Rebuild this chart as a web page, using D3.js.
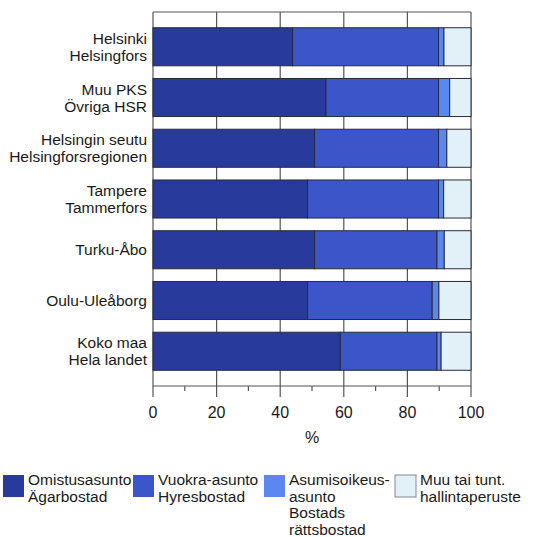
<html>
<head>
  <script src="https://d3js.org/d3.v7.min.js"></script>
  <style>
    body { margin: 0; background: #fff; }
    text { font-family: "Liberation Sans", Arial, sans-serif; font-size: 15.5px; fill: #1a1a1a; }
    .tick-lab { font-size: 16px; }
  </style>
</head>
<body>
  <script>
    var width = 540,
    height = 537;

    // regions, each one or two lines of label
    var regions = [
      ["Helsinki", "Helsingfors"],
      ["Muu PKS", "Övriga HSR"],
      ["Helsingin seutu", "Helsingforsregionen"],
      ["Tampere", "Tammerfors"],
      ["Turku-Åbo"],
      ["Oulu-Uleåborg"],
      ["Koko maa", "Hela landet"]
    ];

    // shares in percent
    var owned  = [43.9, 54.4, 50.8, 48.6, 50.8, 48.6, 58.9];
    var rented = [45.9, 35.4, 39.0, 41.2, 38.5, 39.2, 30.4];
    var rightOfOccupancy = [1.7, 3.5, 2.6, 1.6, 2.3, 2.1, 1.3];
    var other  = [8.5, 6.7, 7.6, 8.6, 8.4, 10.1, 9.4];

    var seriesNames = [
      ["Omistusasunto", "Ägarbostad"],
      ["Vuokra-asunto", "Hyresbostad"],
      ["Asumisoikeus-", "asunto", "Bostads", "rättsbostad"],
      ["Muu tai tunt.", "hallintaperuste"]
    ];
    var colors = ["#283a9c", "#3b56c8", "#5b87f0", "#e2f1f7"];
    var xTicks = [0, 20, 40, 60, 80, 100];

    var rows = regions.map(function(r, i){
      return { i: i, vals: [owned[i], rented[i], rightOfOccupancy[i], other[i]] };
    });

    var svg = d3.select( "body" )
      .append( "svg" )
      .attr( "width", width )
      .attr( "height", height );

    var plotL = 153, plotR = 471, plotT = 12, plotB = 386;

    var x = d3.scaleLinear().domain([0, 100]).range([plotL, plotR]);
    var y = d3.scaleBand()
      .domain(d3.range(regions.length))
      .range([plotT, plotB])
      .paddingInner(0.25)
      .paddingOuter(0.31);

    // grid
    svg.append("g").selectAll("line")
      .data(xTicks)
      .enter().append("line")
      .attr("x1", function(d){ return x(d); })
      .attr("x2", function(d){ return x(d); })
      .attr("y1", plotT)
      .attr("y2", plotB + 11)
      .attr("stroke", "#555")
      .attr("stroke-width", 1.2);

    svg.append("line")
      .attr("x1", plotL).attr("x2", plotR)
      .attr("y1", plotT).attr("y2", plotT)
      .attr("stroke", "#555").attr("stroke-width", 1.2);
    svg.append("line")
      .attr("x1", plotL).attr("x2", plotR)
      .attr("y1", plotB).attr("y2", plotB)
      .attr("stroke", "#555").attr("stroke-width", 1.2);

    // minor ticks
    svg.append("g").selectAll("line")
      .data(d3.range(10, 100, 20))
      .enter().append("line")
      .attr("x1", function(d){ return x(d); })
      .attr("x2", function(d){ return x(d); })
      .attr("y1", plotB)
      .attr("y2", plotB + 5)
      .attr("stroke", "#555")
      .attr("stroke-width", 1.2);

    // bars
    var barG = svg.append("g");
    rows.forEach(function(row){
      var acc = 0;
      row.vals.forEach(function(v, k){
        barG.append("rect")
          .attr("x", x(acc))
          .attr("y", y(row.i))
          .attr("width", x(acc + v) - x(acc))
          .attr("height", y.bandwidth())
          .attr("fill", colors[k])
          .attr("stroke", "#2a2a3a")
          .attr("stroke-width", 1);
        acc += v;
      });
    });

    // category labels
    var lab = svg.append("g");
    regions.forEach(function(lines, i){
      var cy = y(i) + y.bandwidth() / 2;
      var t = lab.append("text")
        .attr("text-anchor", "end")
        .attr("x", 147)
        .attr("y", cy - (lines.length - 1) * 8.5 + 5.5);
      lines.forEach(function(l, j){
        t.append("tspan")
          .attr("x", 147)
          .attr("dy", j === 0 ? 0 : 17)
          .text(l);
      });
    });

    // x tick labels
    svg.append("g").selectAll("text")
      .data(xTicks)
      .enter().append("text")
      .attr("class", "tick-lab")
      .attr("x", function(d){ return x(d); })
      .attr("y", 418)
      .attr("text-anchor", "middle")
      .text(function(d){ return d; });

    svg.append("text")
      .attr("class", "tick-lab")
      .attr("x", x(50))
      .attr("y", 443)
      .attr("text-anchor", "middle")
      .text("%");

    // legend
    var legX = [3, 133, 264, 395];
    var leg = svg.append("g");
    seriesNames.forEach(function(lines, k){
      leg.append("rect")
        .attr("x", legX[k])
        .attr("y", 475)
        .attr("width", 21)
        .attr("height", 22)
        .attr("fill", colors[k])
        .attr("stroke", k === 3 ? "#888" : "none");
      var t = leg.append("text")
        .attr("x", legX[k] + 25)
        .attr("y", 485);
      lines.forEach(function(l, j){
        t.append("tspan")
          .attr("x", legX[k] + 25)
          .attr("dy", j === 0 ? 0 : 16.5)
          .text(l);
      });
    });
  </script>
</body>
</html>
